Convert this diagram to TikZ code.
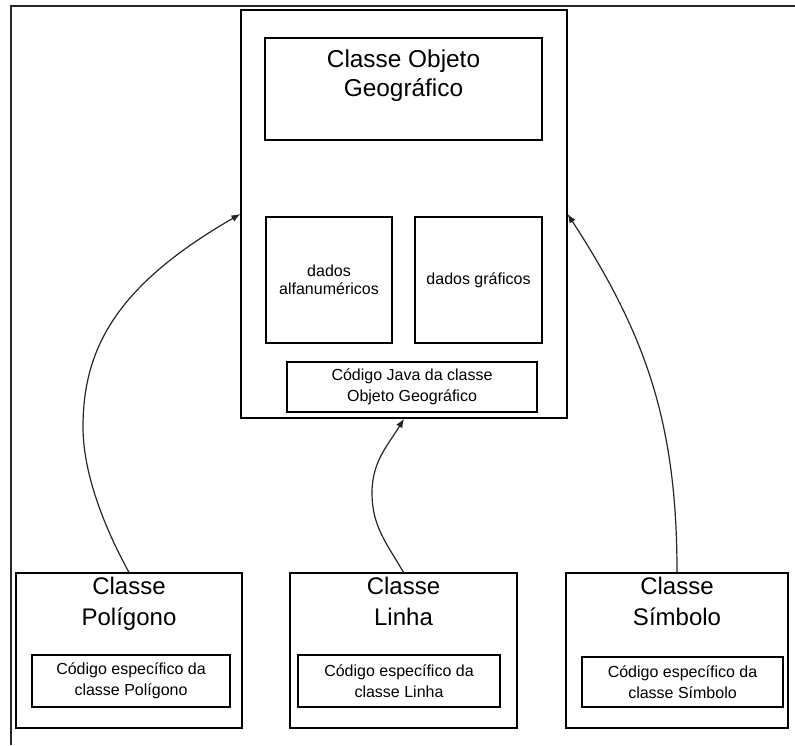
\documentclass[tikz,border=0pt]{standalone}
\usepackage{fontspec}
\setmainfont{Liberation Sans}
\usetikzlibrary{arrows.meta}
\begin{document}
\begin{tikzpicture}[x=0.5pt,y=-0.5pt,
  bx/.style 2 args={draw=black, line width=0.6pt, minimum width=#1*0.5pt, minimum height=#2*0.5pt, inner sep=0pt},
  big/.style={font=\fontsize{12.2}{14.5}\selectfont, align=center, inner sep=0pt},
  subttl/.style={font=\fontsize{12}{15.5}\selectfont, align=center, inner sep=0pt, text depth=0pt},
  small/.style={font=\fontsize{8}{10.5}\selectfont, align=center, inner sep=0pt},
  conn/.style={draw=black!85, line width=0.6pt, -{Latex[length=4.5pt,width=3.5pt]}},
  frame/.style={line width=1pt, draw=black!85}]
\useasboundingbox (0,0) rectangle (795,745);
% outer frame (top and left edges)
\draw[frame] (10,6) -- (795,6);
\draw[frame] (11,6) -- (11,745);
% main class
\node[bx={326}{408}] (main) at (404,214) {};
\node[bx={277}{102}] (title) at (403.5,89) {};
\node[big] (titletxt) at (403.5,76) {Classe Objeto\\Geográfico};
\node[bx={126}{126}, small, font=\fontsize{8}{9}\selectfont] (alfa) at (329,280) {dados\\alfanuméricos};
\node[bx={127}{126}, small] (graf) at (478.5,280) {dados gráficos};
\node[bx={250}{50}, small] (java) at (412,387) {Código Java da classe\\Objeto Geográfico};
% subclasses
\node[bx={226}{155}] (pol) at (129,650.5) {};
\node[subttl] (poltxt) at (129,601) {Classe\\Polígono};
\node[bx={198}{52}, small] (polin) at (131,681) {Código específico da\\classe Polígono};
\node[bx={227}{155}] (lin) at (403.5,650.5) {};
\node[subttl] (lintxt) at (403.5,601) {Classe\\Linha};
\node[bx={202}{52}, small] (linin) at (399,681) {Código específico da\\classe Linha};
\node[bx={222}{155}] (sim) at (677,650.5) {};
\node[subttl] (simtxt) at (677,601) {Classe\\Símbolo};
\node[bx={201}{50}, small] (simin) at (682.5,682) {Código específico da\\classe Símbolo};
% inheritance connectors
\coordinate (lbend) at (83,427);
\coordinate (mbend) at (372,493);
\draw[conn] (pol.north) .. controls (103,525) and (83,472) .. (lbend)
  .. controls (83,348) and (117,285) .. (main.west);
\draw[conn] (lin.north) to[out=120,in=-90] (mbend) to[out=90,in=239] (main.south);
\draw[conn] (sim.north) to[out=90,in=-57] (main.east);
\end{tikzpicture}
\end{document}
